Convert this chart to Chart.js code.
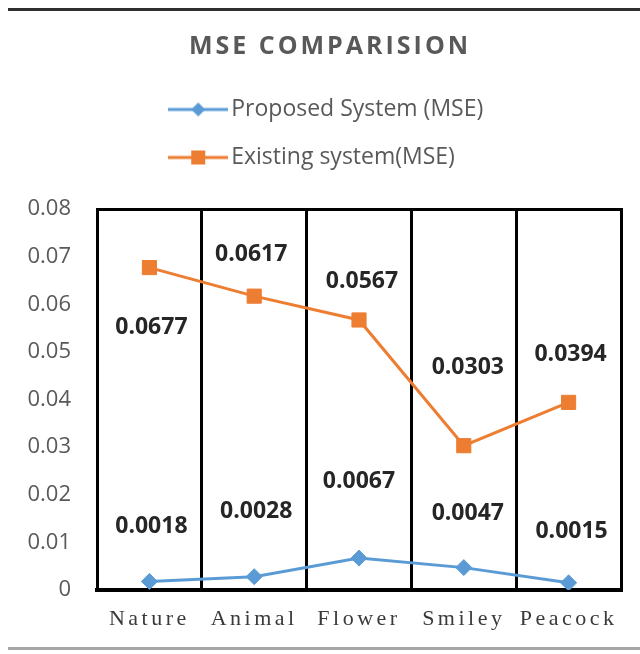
<!DOCTYPE html>
<html>
<head>
<meta charset="utf-8">
<title>MSE Comparision</title>
<script src="https://cdn.jsdelivr.net/npm/chart.js@4.4.1/dist/chart.umd.min.js"></script>
<style>
  html, body { margin: 0; padding: 0; background: #fff; }
  #frame {
    position: absolute; left: 8px; top: 8px; width: 632px; height: 642px;
    box-sizing: border-box;
    border-top: 3px solid #2f2f2f;
    border-bottom: 3px solid #a6a6a6;
  }
  #chartMSE { position: absolute; left: 0; top: 0; }
</style>
</head>
<body>
<div id="frame"></div>
<canvas id="chartMSE" width="640" height="654"></canvas>
<script>
// du lieu doc tu hinh
var categories = ['Nature', 'Animal', 'Flower', 'Smiley', 'Peacock'];
var seriesNames = ['Proposed System (MSE)', 'Existing system(MSE)'];
var proposedMSE = [0.0018, 0.0028, 0.0067, 0.0047, 0.0015];
var existingMSE = [0.0677, 0.0617, 0.0567, 0.0303, 0.0394];
var yTickMin = 0, yTickMax = 0.08, yTickStep = 0.01;

var blue = '#5B9BD5';
var orange = '#ED7D31';

// vi tri nhan so so voi diem (dx, dy)
var labelOffsets = [
  [[2, -55], [2, -65], [0, -77], [4, -54], [3, -51]],
  [[2, 60], [-3, -42], [3, -39], [4, -78], [2, -48]]
];

// icon chu giai: duong + diem
function legendIcon(color, shape) {
  var c = document.createElement('canvas');
  c.width = 60; c.height = 20;
  var g = c.getContext('2d');
  g.strokeStyle = color;
  g.lineWidth = 3;
  g.beginPath(); g.moveTo(0, 10); g.lineTo(60, 10); g.stroke();
  g.fillStyle = color;
  if (shape === 'diamond') {
    g.beginPath();
    g.moveTo(30, 3); g.lineTo(37, 10); g.lineTo(30, 17); g.lineTo(23, 10);
    g.closePath(); g.fill();
  } else {
    g.fillRect(23, 3, 14, 14);
  }
  return c;
}
var icons = [legendIcon(blue, 'diamond'), legendIcon(orange, 'square')];

function wrapSpacing(chart, obj, fn, sp) {
  if (!obj || obj['_sp_' + fn]) return;
  var orig = obj[fn];
  obj[fn] = function() {
    chart.ctx.letterSpacing = sp;
    orig.apply(obj, arguments);
    chart.ctx.letterSpacing = '0px';
  };
  obj['_sp_' + fn] = true;
}

// gian chu cho tieu de va nhan truc x
var spacedText = {
  id: 'spacedText',
  beforeDraw: function(chart) {
    wrapSpacing(chart, chart.titleBlock, 'draw', '3px');
    wrapSpacing(chart, chart.scales.x, 'drawLabels', '3.5px');
    // canh trai cac dong chu giai
    var lg = chart.legend;
    if (lg && lg.lineWidths) {
      var m = Math.max.apply(null, lg.lineWidths);
      lg.lineWidths = lg.lineWidths.map(function() { return m; });
    }
  }
};

// ve gia tri len tung diem
var valueLabels = {
  id: 'valueLabels',
  afterDatasetsDraw: function(chart) {
    var ctx = chart.ctx;
    ctx.save();
    ctx.font = 'bold 23px "Open Sans"';
    ctx.fillStyle = '#262626';
    ctx.textAlign = 'center';
    ctx.textBaseline = 'middle';
    chart.data.datasets.forEach(function(ds, di) {
      var meta = chart.getDatasetMeta(di);
      meta.data.forEach(function(pt, i) {
        var off = labelOffsets[di][i];
        ctx.fillText(ds.data[i].toFixed(4), pt.x + off[0], pt.y + off[1]);
      });
    });
    ctx.restore();
  }
};

var ctx = document.getElementById('chartMSE').getContext('2d');
var chartMSE = new Chart(ctx, {
  type: 'line',
  data: {
    labels: categories,
    datasets: [{
      label: seriesNames[0],
      data: proposedMSE,
      borderColor: blue,
      backgroundColor: blue,
      borderWidth: 3,
      pointStyle: 'rectRot',
      pointRadius: 8,
      pointBorderWidth: 1,
      tension: 0
    }, {
      label: seriesNames[1],
      data: existingMSE,
      borderColor: orange,
      backgroundColor: orange,
      borderWidth: 3,
      pointStyle: 'rect',
      pointRadius: 10,
      pointBorderWidth: 1,
      tension: 0
    }]
  },
  options: {
    responsive: false,
    animation: false,
    layout: { padding: { left: 20, top: 32, right: 0, bottom: 0 } },
    plugins: {
      title: {
        display: true,
        text: 'MSE COMPARISION',
        color: '#595959',
        font: { family: '"Open Sans"', size: 25, weight: 'bold' },
        padding: { top: 0, bottom: 11 }
      },
      legend: {
        position: 'top',
        labels: {
          usePointStyle: true,
          pointStyleWidth: 43,
          color: '#595959',
          font: { family: '"Open Sans"', size: 23 },
          padding: 25,
          generateLabels: function(chart) {
            var items = Chart.defaults.plugins.legend.labels.generateLabels(chart);
            items.forEach(function(it, i) { it.pointStyle = icons[i]; });
            return items;
          }
        }
      },
      tooltip: { enabled: false }
    },
    scales: {
      x: {
        type: 'category',
        position: 'bottom',
        offset: true,
        grid: { display: true, offset: true, color: '#000', lineWidth: 3, drawTicks: false },
        border: { display: true, color: '#000', width: 4 },
        ticks: {
          color: '#3a3a3a',
          font: { family: '"Liberation Serif"', size: 22 },
          padding: 16,
          maxRotation: 0,
          autoSkip: false
        },
        afterFit: function(s) { s.height = 64; }
      },
      x2: {
        type: 'category',
        position: 'top',
        offset: true,
        grid: { display: false },
        border: { display: true, color: '#000', width: 3 },
        ticks: { display: false },
        afterFit: function(s) { s.height = 30; }
      },
      y: {
        min: yTickMin,
        max: yTickMax,
        grid: { display: false, drawTicks: false },
        border: { display: true, color: '#000', width: 3 },
        ticks: {
          stepSize: yTickStep,
          color: '#595959',
          font: { family: '"Open Sans"', size: 22 },
          padding: 26,
          callback: function(v) { return v === 0 ? '0' : v.toFixed(2); }
        },
        afterFit: function(s) { s.width = 77; }
      },
      y2: {
        position: 'right',
        min: yTickMin,
        max: yTickMax,
        grid: { display: false, drawTicks: false },
        border: { display: true, color: '#000', width: 3 },
        ticks: { display: false },
        afterFit: function(s) { s.width = 19; }
      }
    }
  },
  plugins: [spacedText, valueLabels]
});
</script>
</body>
</html>
